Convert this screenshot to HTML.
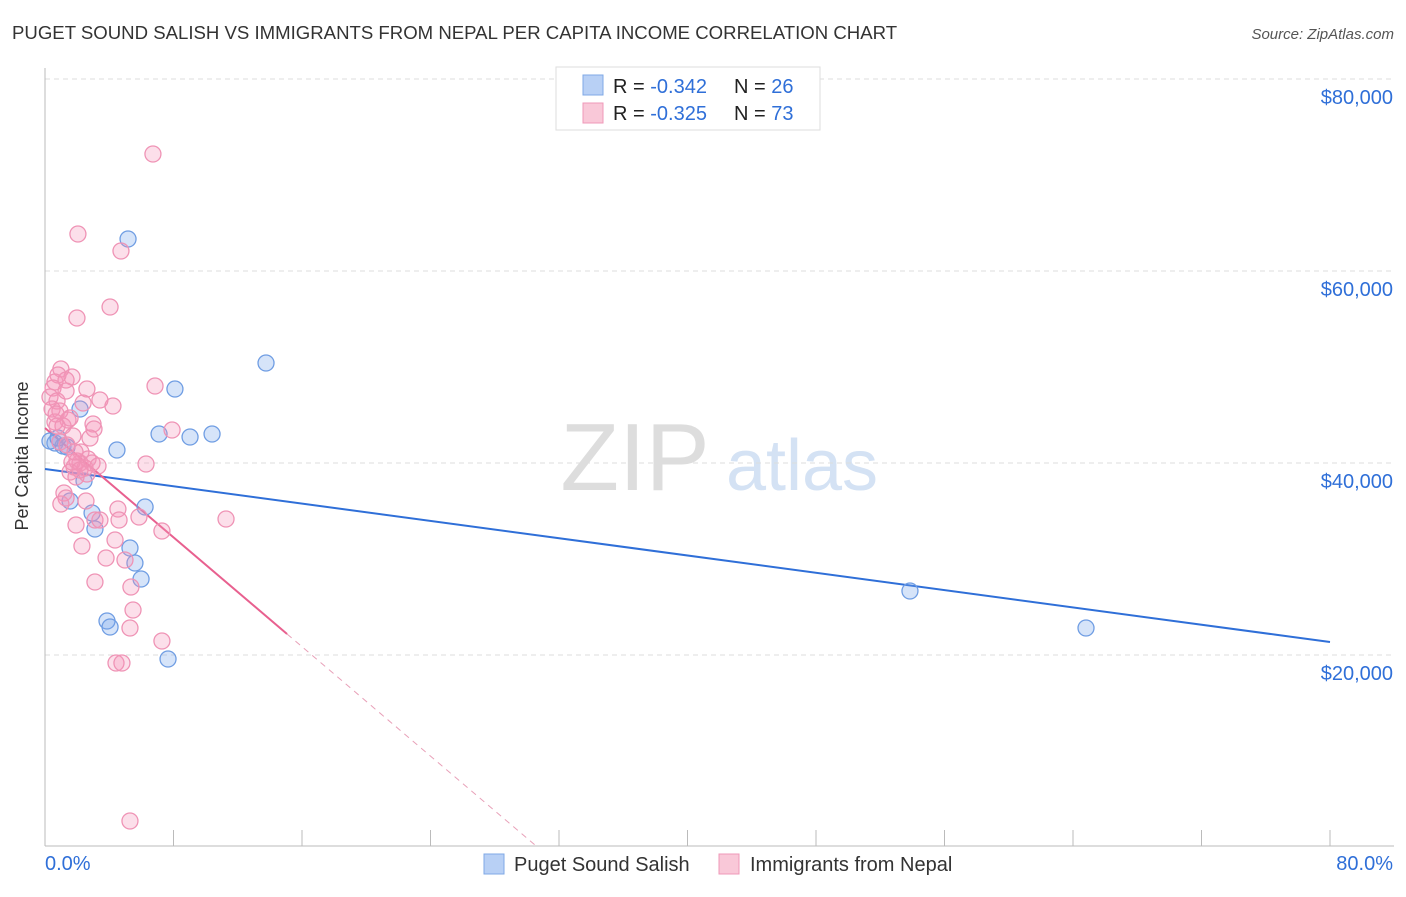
<!DOCTYPE html>
<html><head><meta charset="utf-8"><style>
body{margin:0;background:#fff;font-family:"Liberation Sans",sans-serif}
svg text{font-family:"Liberation Sans",sans-serif}
</style></head><body>
<svg id="c" width="1406" height="892" xmlns="http://www.w3.org/2000/svg">
<text x="12" y="39" font-size="18.6" fill="#333">PUGET SOUND SALISH VS IMMIGRANTS FROM NEPAL PER CAPITA INCOME CORRELATION CHART</text>
<text x="1394" y="39" font-size="15" fill="#555" font-style="italic" text-anchor="end">Source: ZipAtlas.com</text>
<text x="28" y="456" font-size="18" fill="#333" transform="rotate(-90 28 456)" text-anchor="middle">Per Capita Income</text>
<g><text x="635" y="490" font-size="96" fill="#ddd" font-family="Liberation Serif" text-anchor="middle">ZIP</text><text x="802" y="490" font-size="72" fill="#d4e2f4" text-anchor="middle">atlas</text></g>
<g id="grid"></g><g id="axes"></g><g id="lines"></g><g id="pts"></g>
<g>
<rect x="556" y="67" width="264" height="63" fill="#fff" stroke="#ddd"/>
<rect x="583" y="75" width="20" height="20" fill="#b8d0f5" stroke="#7fa8e6"/>
<rect x="583" y="103" width="20" height="20" fill="#f9c8d8" stroke="#ef98b8"/>
<text x="613" y="93" font-size="20" fill="#222">R = <tspan fill="#2f6fd8">-0.342</tspan></text>
<text x="734" y="93" font-size="20" fill="#222">N = <tspan fill="#2f6fd8">26</tspan></text>
<text x="613" y="120" font-size="20" fill="#222">R = <tspan fill="#2f6fd8">-0.325</tspan></text>
<text x="734" y="120" font-size="20" fill="#222">N = <tspan fill="#2f6fd8">73</tspan></text>
</g>
<g>
<rect x="484" y="854" width="20" height="20" fill="#b8d0f5" stroke="#7fa8e6"/>
<text x="514" y="871" font-size="20" fill="#333">Puget Sound Salish</text>
<rect x="719" y="854" width="20" height="20" fill="#f9c8d8" stroke="#ef98b8"/>
<text x="750" y="871" font-size="20" fill="#333">Immigrants from Nepal</text>
</g>
</svg>
<script>
const yTicks=[20000,40000,60000,80000];
const yTickLabels=["$20,000","$40,000","$60,000","$80,000"];
const xEndLabels=["0.0%","80.0%"];
const blueX=[5.17,13.76,8.09,2.18,7.10,9.03,10.40,4.48,0.62,1.12,2.43,1.56,6.23,2.93,3.11,5.29,5.60,5.98,3.86,4.05,7.66,53.85,64.81,0.31,1.37,0.81];
const blueY=[63333,50417,47708,45625,43021,42708,43021,41354,42083,41771,38125,36042,35417,34792,33125,31146,29583,27917,23542,22917,19583,26667,22813,42292,41667,42604];
const pinkX=[6.72,2.05,4.73,4.05,1.99,0.99,0.81,1.68,0.62,0.50,2.61,6.85,0.31,0.75,2.37,4.23,0.44,0.93,1.43,2.99,0.62,1.12,3.05,7.91,2.80,1.74,2.24,2.68,2.18,1.81,2.49,6.29,1.56,1.93,1.18,1.31,2.55,0.99,4.54,3.11,4.61,5.85,11.27,1.93,7.28,2.30,3.80,4.98,3.11,5.35,5.48,5.29,7.28,4.42,4.79,5.29,1.31,0.69,1.56,3.42,1.99,2.93,3.30,1.68,2.61,2.18,0.75,1.31,3.42,0.93,1.37,4.36,1.87];
const pinkY=[72188,63854,62083,56250,55104,49792,49167,48958,48438,47813,47708,48021,46875,46458,46250,45938,45625,45417,44479,44063,44271,43854,43542,43438,42604,42813,41146,40417,40000,39583,39479,39896,39063,38542,36875,36354,36042,35729,35208,34063,34063,34375,34167,33542,32917,31354,30104,29896,27604,27083,24688,22813,21458,19167,19167,2708,48646,45104,44688,46563,40208,40000,39688,40104,38854,39271,43854,47500,34063,42188,41875,31979,41146];
const blueTrend=[39375,21354];
const pinkTrend=[43646,-1424];
const X0=45,X1=1330,Y0=847,YPX=192/20000;
const sx=v=>X0+(v/80)*(X1-X0);
const sy=v=>Y0-v*YPX;
const NS="http://www.w3.org/2000/svg";
function mk(parent,tag,attrs){const e=document.createElementNS(NS,tag);for(const k in attrs)e.setAttribute(k,attrs[k]);document.getElementById(parent).appendChild(e);return e;}
yTicks.forEach((t,i)=>{
  const g=mk('grid','line',{x1:45,x2:1394,y1:sy(t),y2:sy(t),stroke:'#ddd','stroke-dasharray':'5,4'});
  
  
  const l=mk('axes','text',{x:1393,y:sy(t)+25,'font-size':20,fill:'#2f6fd8','text-anchor':'end'});
  l.textContent=yTickLabels[i];
  
  
});
const topGrid=mk('grid','line',{x1:45,x2:1394,y1:79,y2:79,stroke:'#ddd','stroke-dasharray':'5,4'});


const xa=mk('axes','line',{x1:45,x2:1394,y1:846,y2:846,stroke:'#bbb'});


const ya=mk('axes','line',{x1:45,x2:45,y1:68,y2:846,stroke:'#bbb'});


for(let i=0;i<=10;i++){
  const t=mk('axes','line',{x1:sx(i*8),x2:sx(i*8),y1:830,y2:846,stroke:'#bbb'});
  
  
}
const xl0=mk('axes','text',{x:45,y:870,'font-size':20,fill:'#2f6fd8'});xl0.textContent=xEndLabels[0];


const xl1=mk('axes','text',{x:1393,y:870,'font-size':20,fill:'#2f6fd8','text-anchor':'end'});xl1.textContent=xEndLabels[1];


blueX.forEach((x,i)=>{
  const c=mk('pts','circle',{cx:sx(x),cy:sy(blueY[i]),r:8,fill:'rgba(120,165,235,0.3)',stroke:'#6f9de3','stroke-width':1.3});
  
  
});
pinkX.forEach((x,i)=>{
  const c=mk('pts','circle',{cx:sx(x),cy:sy(pinkY[i]),r:8,fill:'rgba(245,150,185,0.3)',stroke:'#ef93b5','stroke-width':1.3});
  
  
});
const bl=mk('lines','line',{x1:sx(0),y1:sy(blueTrend[0]),x2:sx(80),y2:sy(blueTrend[1]),stroke:'#2f6fd8','stroke-width':2});


const pv=x=>pinkTrend[0]+pinkTrend[1]*x;
const pl=mk('lines','line',{x1:sx(0),y1:sy(pv(0)),x2:sx(15.07),y2:sy(pv(15.07)),stroke:'#e8608f','stroke-width':2});


const xe=-pinkTrend[0]/pinkTrend[1];
const pd=mk('lines','line',{x1:sx(15.07),y1:sy(pv(15.07)),x2:sx(xe),y2:sy(0),stroke:'#e8a0b8','stroke-width':1,'stroke-dasharray':'6,5'});


</script>
</body></html>
